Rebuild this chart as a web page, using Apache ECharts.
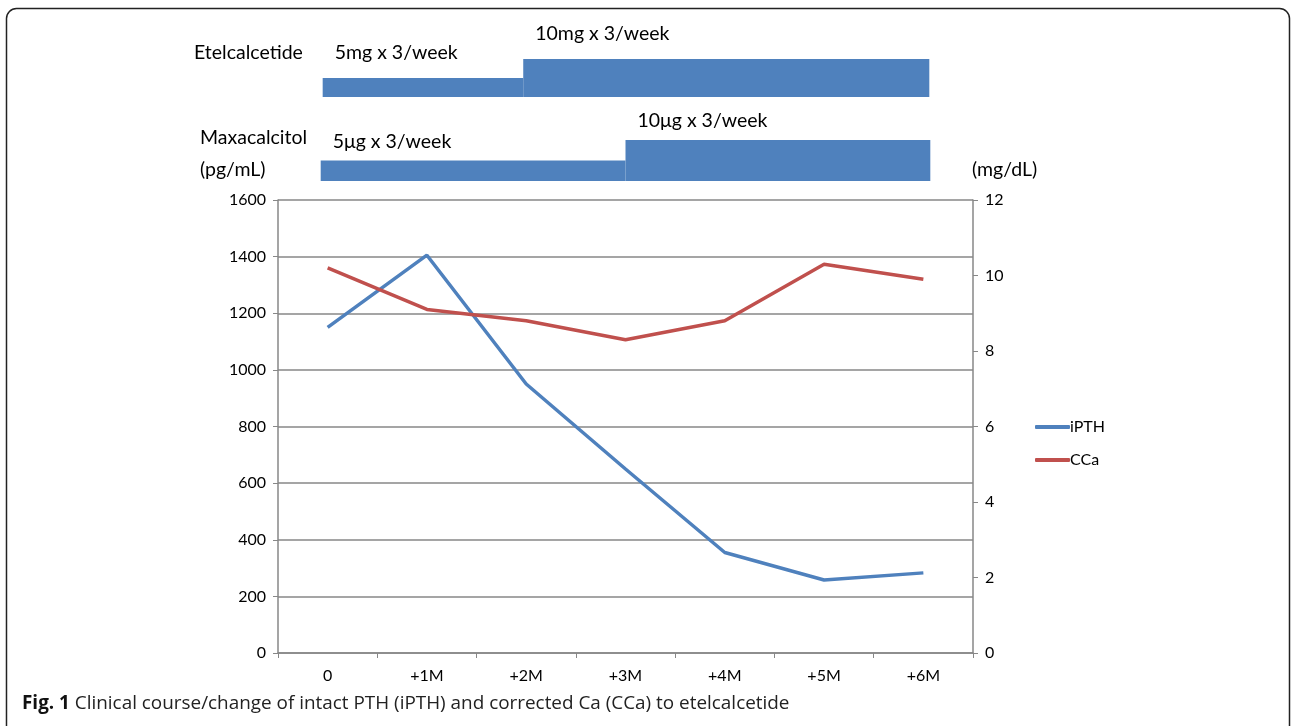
<!DOCTYPE html>
<html>
<head>
<meta charset="utf-8">
<script src="https://cdn.jsdelivr.net/npm/echarts@6/dist/echarts.min.js"></script>
<style>
  html, body { margin: 0; padding: 0; background: #fff; }
  #chart { width: 1292px; height: 726px; }
</style>
</head>
<body>
<div id="chart"></div>
<script>
const months = ['0', '+1M', '+2M', '+3M', '+4M', '+5M', '+6M'];
const ipth = [1150, 1405, 950, 650, 355, 258, 283];
const cca = [10.2, 9.1, 8.8, 8.3, 8.8, 10.3, 9.9];

// [start month, end month, level, label]
const etelDoses = [[-0.05, 1.97, 1, '5mg x 3/week'], [1.97, 6.06, 2, '10mg x 3/week']];
const maxaDoses = [[-0.07, 3, 1, '5\u03bcg x 3/week'], [3, 6.07, 2, '10\u03bcg x 3/week']];

const FONT = 'Lato';
const blue = '#4F81BD';
const red = '#C0504D';
const gridCol = '#878787';

const chart = echarts.init(document.getElementById('chart'));

function doseRender(labelGap) {
    return function (params, api) {
        const p0 = api.coord([api.value(0), api.value(2)]);
        const p1 = api.coord([api.value(1), 0]);
        return {
            type: 'group',
            children: [
                {
                    type: 'rect',
                    shape: {x: p0[0], y: p0[1], width: p1[0] - p0[0], height: p1[1] - p0[1]},
                    style: {fill: blue}
                },
                {
                    type: 'text',
                    x: p0[0] + 12,
                    y: p0[1] - labelGap,
                    style: {
                        text: api.value(3),
                        fill: '#000',
                        font: '19.5px ' + FONT,
                        verticalAlign: 'middle'
                    }
                }
            ]
        };
    };
}

const hiddenX = gi => ({
    type: 'value', gridIndex: gi, min: -0.5, max: 6.5, show: false
});
const hiddenY = gi => ({
    type: 'value', gridIndex: gi, min: 0, max: 2, show: false
});

chart.setOption({
    animation: false,
    textStyle: {fontFamily: FONT},
    grid: [
        {left: 278, right: 319, top: 200, bottom: 73},
        {left: 278, right: 319, top: 59, height: 38},
        {left: 278, right: 319, top: 140, height: 41}
    ],
    xAxis: [
        {
            type: 'category',
            data: months,
            gridIndex: 0,
            axisLine: {lineStyle: {color: gridCol, width: 1.5}},
            axisTick: {show: true, length: 5, lineStyle: {color: gridCol}},
            axisLabel: {color: '#000', fontSize: 16, margin: 15}
        },
        hiddenX(1),
        hiddenX(2)
    ],
    yAxis: [
        {
            type: 'value',
            min: 0, max: 1600, interval: 200,
            gridIndex: 0,
            axisLine: {show: true, lineStyle: {color: gridCol, width: 1.5}},
            axisTick: {show: true, length: 5, lineStyle: {color: gridCol}},
            axisLabel: {color: '#000', fontSize: 16, margin: 12, formatter: v => String(v)},
            splitLine: {lineStyle: {color: gridCol, width: 1.5}}
        },
        {
            type: 'value',
            min: 0, max: 12, interval: 2,
            gridIndex: 0,
            position: 'right',
            axisLine: {show: true, lineStyle: {color: gridCol, width: 1.5}},
            axisTick: {show: true, length: 5, lineStyle: {color: gridCol}},
            axisLabel: {color: '#000', fontSize: 16, margin: 12},
            splitLine: {show: false}
        },
        hiddenY(1),
        hiddenY(2)
    ],
    legend: {
        orient: 'vertical',
        left: 1030,
        top: 414,
        itemWidth: 35,
        itemHeight: 4,
        itemGap: 17,
        icon: 'roundRect',
        textStyle: {color: '#000', fontSize: 16, fontFamily: FONT, padding: [0, 0, 0, -5]},
        data: ['iPTH', 'CCa']
    },
    series: [
        {
            name: 'iPTH',
            type: 'line',
            data: ipth,
            xAxisIndex: 0, yAxisIndex: 0,
            symbol: 'none',
            lineStyle: {color: blue, width: 3.5},
            itemStyle: {color: blue}
        },
        {
            name: 'CCa',
            type: 'line',
            data: cca,
            xAxisIndex: 0, yAxisIndex: 1,
            symbol: 'none',
            lineStyle: {color: red, width: 3.5},
            itemStyle: {color: red}
        },
        {
            type: 'custom',
            xAxisIndex: 1, yAxisIndex: 2,
            renderItem: doseRender(25),
            data: etelDoses,
            encode: {x: [0, 1], y: 2}
        },
        {
            type: 'custom',
            xAxisIndex: 2, yAxisIndex: 3,
            renderItem: doseRender(19),
            data: maxaDoses,
            encode: {x: [0, 1], y: 2}
        }
    ],
    graphic: [
        {
            type: 'rect',
            shape: {x: 6.5, y: 8.5, width: 1283, height: 740, r: 10},
            style: {fill: 'none', stroke: '#222', lineWidth: 1.5},
            silent: true
        },
        {type: 'text', left: 194, top: 43, style: {text: 'Etelcalcetide', font: '19.5px ' + FONT, fill: '#000'}},
        {type: 'text', left: 200, top: 128, style: {text: 'Maxacalcitol', font: '19.5px ' + FONT, fill: '#000'}},
        {type: 'text', left: 200, top: 160, style: {text: '(pg/mL)', font: '19.5px ' + FONT, fill: '#000'}},
        {type: 'text', left: 972, top: 160, style: {text: '(mg/dL)', font: '19.5px ' + FONT, fill: '#000'}},
        {
            type: 'text',
            left: 22,
            top: 694,
            style: {
                text: '{b|Fig. 1} Clinical course/change of intact PTH (iPTH) and corrected Ca (CCa) to etelcalcetide',
                font: '18.9px "Open Sans"',
                fill: '#222',
                rich: {
                    b: {fontWeight: 'bold', fontSize: 18.9, fontFamily: 'Open Sans', fill: '#111'}
                }
            }
        }
    ]
});
</script>
</body>
</html>
